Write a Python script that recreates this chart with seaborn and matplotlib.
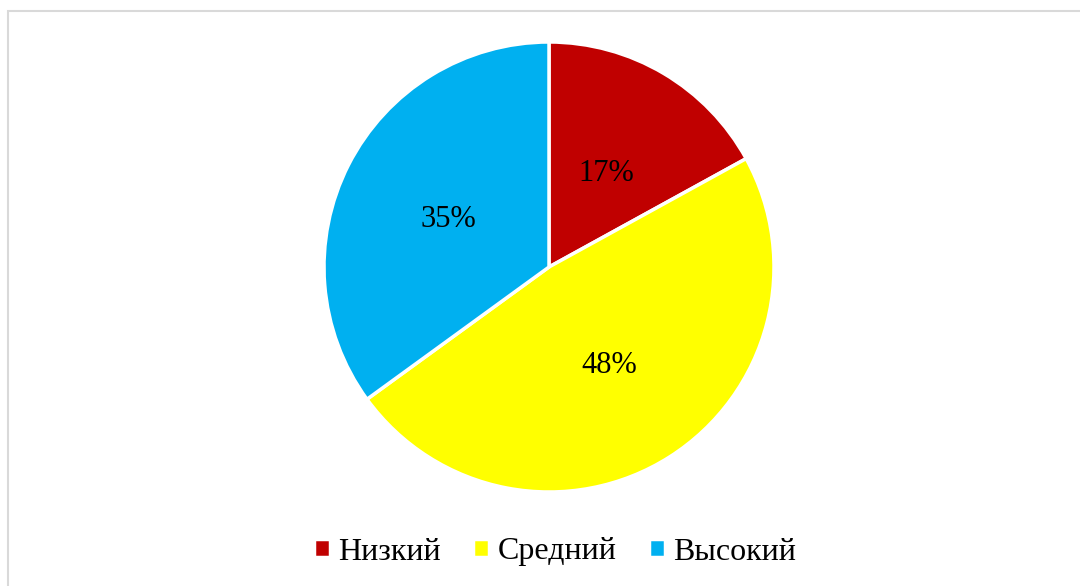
import matplotlib
matplotlib.use('Agg')
import matplotlib.pyplot as plt
import seaborn as sns
from matplotlib.patches import Rectangle

# Данные
categories = ['Низкий', 'Средний', 'Высокий']
shares = [17, 48, 35]
colors = ['#C00000', '#FFFF00', '#00B0F0']

sns.set_theme(style='white')
plt.rcParams['font.family'] = ['Liberation Serif', 'DejaVu Serif']
plt.rcParams['text.color'] = 'black'

W, H = 1080, 586
fig = plt.figure(figsize=(W / 100, H / 100), dpi=100)
fig.patch.set_facecolor('white')

# рамка области диаграммы (правый и нижний края за пределами картинки)
fig.patches.append(Rectangle((8 / W, -0.1), 1.2, 1 - 11 / H + 0.1,
                             transform=fig.transFigure, fill=False,
                             edgecolor='#D9D9D9', linewidth=1.5))

# круг: центр (549, 267), радиус 225 пикселей
r = 225
cx, cy = 549, 267
ax = fig.add_axes([(cx - r) / W, (H - cy - r) / H, 2 * r / W, 2 * r / H])
wedges, texts, autotexts = ax.pie(
    shares, colors=colors, startangle=90, counterclock=False,
    autopct='%1.0f%%', pctdistance=0.5,
    wedgeprops=dict(edgecolor='white', linewidth=2.5),
    textprops=dict(fontsize=22, color='black'))
for t in autotexts:
    t.set_va('center_baseline')
ax.set_xlim(-1, 1)
ax.set_ylim(-1, 1)
ax.set_aspect('equal')
ax.axis('off')

leg = fig.legend(wedges, categories, loc='center', bbox_to_anchor=(555 / W, 1 - 552 / H),
                 ncol=3, frameon=False, fontsize=23,
                 handlelength=0.5, handleheight=0.5, handletextpad=0.27,
                 columnspacing=1.0)
for t in leg.get_texts():
    t.set_color('black')

fig.savefig('out.png', dpi=100, facecolor='white')
